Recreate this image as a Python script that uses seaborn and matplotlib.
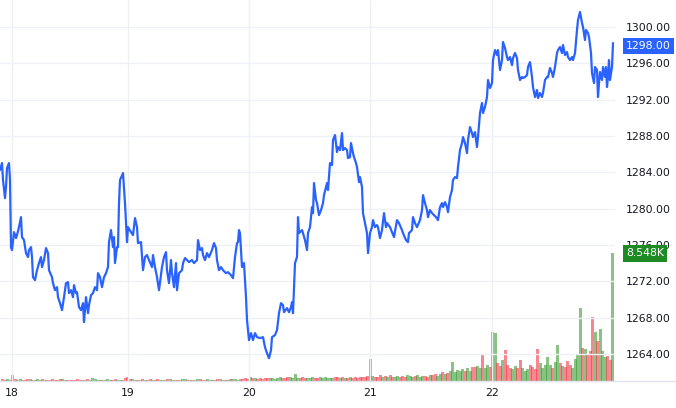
import numpy as np
import pandas as pd
import seaborn as sns
import matplotlib
matplotlib.use("Agg")
import matplotlib.pyplot as plt
from matplotlib.lines import Line2D

# ---------------- data (hours from day 18 00:00, price) ----------------
h_17 = [-2.2, -1.8, -1.6, -1.2, -1.0, -0.8, -0.4, -0.2]
p_17 = [1284.25, 1285.02, 1283.15, 1281.16, 1282.38, 1284.47, 1285.02, 1283.15]

h_18 = [0.0, 0.2, 0.6, 1.0, 1.2, 1.6, 2.0, 2.2, 2.6, 3.0,
        3.4, 3.6, 4.0, 4.2, 4.4, 4.8, 5.2, 5.6, 6.0, 6.2,
        6.6, 7.0, 7.4, 7.6, 8.2, 8.4, 8.8, 9.2, 9.4, 9.8,
        10.2, 10.6, 11.0, 11.4, 11.6, 12.0, 12.4, 12.6, 13.0, 13.2,
        13.6, 14.0, 14.4, 14.6, 15.0, 15.4, 15.6, 16.0, 16.4, 16.8,
        17.2, 17.4, 17.8, 18.2, 18.6, 19.0, 19.4, 19.6, 20.0, 20.4,
        20.6, 20.8, 21.2, 21.4, 21.6, 21.8, 22.4, 22.8, 23.2, 23.4]
p_18 = [1275.77, 1275.44, 1277.42, 1276.76, 1277.09, 1277.97, 1279.07, 1276.87, 1276.54, 1275.11,
        1274.67, 1275.44, 1275.77, 1274.67, 1272.46, 1272.13, 1273.23, 1274.01, 1274.67, 1273.57,
        1274.34, 1275.66, 1275.11, 1273.23, 1272.46, 1271.80, 1271.03, 1271.36, 1270.26, 1269.60,
        1268.83, 1270.26, 1271.80, 1271.91, 1270.70, 1271.03, 1270.26, 1271.58, 1270.70, 1270.81,
        1269.16, 1268.83, 1269.60, 1267.51, 1270.26, 1268.50, 1269.38, 1270.48, 1270.70, 1271.36,
        1271.03, 1272.90, 1272.46, 1271.36, 1272.46, 1272.90, 1273.57, 1276.32, 1277.64, 1275.77,
        1276.87, 1274.01, 1275.77, 1275.77, 1280.61, 1283.15, 1283.92, 1280.61, 1276.32, 1277.97]

h_19 = [24.0, 24.4, 24.8, 25.2, 25.4, 26.0, 26.4, 26.8, 27.2, 27.6,
        28.2, 28.4, 28.8, 29.2, 29.6, 30.2, 30.6, 31.0, 31.2, 31.6,
        32.0, 32.2, 32.6, 33.0, 33.2, 33.6, 34.2, 34.4, 34.8, 35.2,
        35.6, 36.2, 36.6, 37.2, 37.4, 37.8, 38.2, 38.4, 38.8, 39.2,
        39.6, 40.2, 40.6, 41.0, 41.2, 41.6, 42.0, 42.4, 43.0, 43.4,
        44.0, 44.4, 44.8, 45.2, 45.4, 45.6, 45.8, 46.2, 46.6, 47.0,
        47.2, 47.6]
p_19 = [1277.42, 1277.09, 1278.96, 1277.97, 1276.21, 1276.32, 1273.23, 1274.67, 1274.89, 1274.34,
        1273.57, 1274.89, 1273.57, 1272.46, 1271.03, 1273.57, 1274.67, 1275.22, 1273.23, 1271.80,
        1274.34, 1272.90, 1271.36, 1274.01, 1271.03, 1272.90, 1273.23, 1274.01, 1274.56, 1274.34,
        1274.12, 1274.34, 1274.01, 1274.34, 1276.54, 1275.44, 1275.66, 1274.89, 1274.34, 1275.11,
        1274.67, 1275.44, 1276.21, 1275.66, 1274.34, 1273.23, 1273.57, 1273.23, 1272.90, 1273.01,
        1272.68, 1272.35, 1274.67, 1276.21, 1276.32, 1277.64, 1277.31, 1273.57, 1274.01, 1270.26,
        1267.73, 1265.53]

h_20 = [48.0, 48.4, 48.8, 49.2, 49.8, 50.4, 50.8, 51.2, 51.6, 52.0,
        52.2, 52.8, 53.2, 53.6, 54.0, 54.4, 54.6, 55.2, 55.6, 56.0,
        56.2, 56.4, 56.8, 57.2, 57.4, 57.6, 58.2, 58.4, 58.8, 59.2,
        59.4, 59.8, 60.2, 60.4, 60.6, 61.0, 61.2, 61.6, 62.0, 62.4,
        62.6, 63.0, 63.2, 63.4, 63.8, 64.2, 64.4, 64.8, 65.2, 65.4,
        65.8, 66.2, 66.4, 66.8, 67.2, 67.4, 67.8, 68.0, 68.4, 68.6,
        69.0, 69.2, 69.6, 69.8, 70.2, 70.4, 70.8, 71.2, 71.4, 71.8]
p_20 = [1266.30, 1265.53, 1266.30, 1265.86, 1265.75, 1265.86, 1264.75, 1264.09, 1263.54, 1264.42,
        1265.86, 1266.08, 1266.63, 1268.50, 1269.60, 1269.38, 1268.61, 1269.05, 1268.61, 1269.16,
        1269.71, 1268.50, 1274.01, 1274.67, 1279.07, 1277.31, 1277.64, 1277.31, 1276.54, 1275.44,
        1277.31, 1277.97, 1280.17, 1279.51, 1282.82, 1280.94, 1280.61, 1279.29, 1279.84, 1280.61,
        1281.49, 1282.38, 1282.82, 1282.05, 1285.02, 1284.80, 1287.55, 1288.10, 1286.23, 1286.78,
        1286.45, 1288.32, 1286.45, 1286.67, 1286.45, 1285.57, 1285.68, 1287.22, 1286.12, 1285.68,
        1285.02, 1284.58, 1282.93, 1283.48, 1282.38, 1279.51, 1278.41, 1277.31, 1275.11, 1277.31]

h_21 = [72.2, 72.4, 72.8, 73.2, 73.4, 73.8, 74.2, 74.6, 75.0, 75.2,
        75.8, 76.2, 76.6, 77.2, 77.6, 78.2, 78.4, 79.0, 79.4, 79.6,
        80.2, 80.4, 80.8, 81.2, 81.8, 82.2, 82.4, 82.8, 83.2, 83.4,
        83.8, 84.2, 84.6, 85.0, 85.4, 85.8, 86.2, 86.4, 86.8, 87.2,
        87.4, 87.8, 88.2, 88.4, 88.8, 89.2, 89.4, 89.8, 90.2, 90.4,
        90.8, 91.2, 91.4, 91.8, 92.2, 92.4, 92.8, 93.2, 93.4, 93.8,
        94.2, 94.4, 94.8, 95.2, 95.4, 95.8]
p_21 = [1277.97, 1278.74, 1277.97, 1278.19, 1277.97, 1276.76, 1277.64, 1279.51, 1277.97, 1278.41,
        1277.97, 1277.42, 1276.87, 1278.74, 1278.41, 1277.64, 1277.31, 1276.54, 1276.32, 1277.31,
        1277.64, 1279.07, 1278.41, 1277.97, 1278.74, 1279.84, 1281.49, 1280.61, 1279.84, 1279.07,
        1279.84, 1279.51, 1279.29, 1279.07, 1278.74, 1280.17, 1280.61, 1280.17, 1280.72, 1280.17,
        1279.62, 1281.27, 1282.05, 1283.15, 1283.48, 1283.37, 1284.58, 1286.45, 1287.22, 1287.88,
        1287.22, 1286.12, 1287.55, 1288.98, 1288.32, 1287.88, 1288.43, 1286.78, 1287.88, 1290.53,
        1291.63, 1290.53, 1291.19, 1292.29, 1294.16, 1293.28]

h_22 = [96.2, 96.4, 96.8, 97.2, 97.4, 97.8, 98.2, 98.4, 98.8, 99.2,
        99.4, 99.8, 100.2, 100.4, 100.8, 101.2, 101.4, 101.8, 102.2, 102.4,
        102.8, 103.2, 103.4, 103.8, 104.2, 104.4, 104.8, 105.2, 105.4, 105.8,
        106.2, 106.4, 106.8, 107.2, 107.4, 107.8, 108.2, 108.4, 108.8, 109.2,
        109.4, 109.8, 110.2, 110.4, 110.8, 111.2, 111.4, 111.8, 112.2, 112.4,
        112.8, 113.2, 113.4, 113.8, 114.2, 114.4, 114.8, 115.0, 115.4, 115.6,
        116.0, 116.2, 116.6, 116.8, 117.2, 117.4, 117.6, 117.8, 118.2, 118.4,
        118.8, 119.0, 119.2, 119.4, 119.6, 119.8, 120.2, 120.4]
p_22 = [1293.83, 1296.36, 1297.46, 1296.91, 1297.46, 1295.26, 1296.36, 1298.34, 1297.68, 1296.69,
        1296.36, 1296.69, 1295.81, 1296.58, 1297.13, 1296.58, 1295.26, 1294.16, 1294.49, 1294.38,
        1294.49, 1294.71, 1295.59, 1296.14, 1294.49, 1293.39, 1292.29, 1293.06, 1292.18, 1292.73,
        1292.29, 1292.73, 1294.16, 1294.49, 1294.49, 1295.48, 1294.93, 1294.49, 1295.59, 1297.13,
        1297.46, 1297.79, 1297.13, 1298.01, 1296.91, 1297.24, 1296.69, 1296.36, 1296.69, 1296.36,
        1297.13, 1299.67, 1300.77, 1301.65, 1300.44, 1300.00, 1298.56, 1299.67, 1299.34, 1298.90,
        1297.13, 1294.93, 1293.83, 1295.59, 1295.26, 1292.29, 1293.83, 1295.04, 1294.16, 1295.59,
        1294.49, 1295.59, 1293.39, 1294.49, 1296.36, 1294.16, 1295.59, 1298.23]

# volume per 30-minute bar (bars start at hour -2.0)
vol_17 = [120, 90, 150, 80]
vol_18 = [400, 150, 100, 130, 90, 70, 110, 160, 80, 60, 120, 90,
          140, 100, 70, 80, 110, 60, 90, 130, 150, 100, 80, 70,
          60, 90, 110, 80, 70, 100, 120, 90, 200, 140, 90, 70,
          100, 80, 120, 60, 90, 110, 70, 80, 100, 180, 260, 150]
vol_19 = [120, 90, 100, 80, 130, 70, 90, 110, 60, 80, 140, 100,
          90, 70, 120, 160, 80, 100, 70, 90, 130, 110, 80, 60,
          100, 90, 150, 120, 80, 70, 110, 90, 60, 100, 140, 120,
          80, 90, 70, 110, 130, 160, 100, 150, 120, 180, 140, 250]
vol_20 = [180, 220, 160, 200, 150, 190, 230, 170, 210, 160, 200, 240,
          180, 220, 300, 260, 200, 470, 230, 180, 250, 210, 190, 230,
          280, 200, 170, 240, 220, 260, 190, 210, 180, 300, 240, 200,
          270, 220, 190, 250, 230, 280, 210, 260, 240, 300, 350, 1470]
vol_21 = [350, 250, 300, 420, 280, 330, 260, 380, 300, 240, 350, 290,
          320, 270, 380, 310, 260, 340, 400, 290, 330, 360, 300, 420,
          380, 450, 350, 500, 620, 480, 560, 700, 1270, 600, 750, 680,
          820, 640, 900, 700, 940, 950, 1000, 850, 1740, 900, 1100, 950]
vol_22 = [3270, 3200, 1200, 1000, 1400, 2070, 1100, 900, 800, 1000, 850, 1400,
          900, 700, 800, 1100, 950, 800, 2140, 1200, 900, 1050, 1600, 1100,
          900, 1300, 2400, 1200, 1000, 950, 1350, 1100, 900, 1500, 1800, 4870,
          2200, 2140, 1800, 2000, 4270, 3270, 2700, 3470, 2000, 1600, 1700, 1400,
          8548]

price_ticks = [1264, 1268, 1272, 1276, 1280, 1284, 1288, 1292, 1296, 1300]
day_tick_hours = [0.2, 23.4, 47.6, 71.8, 96.2]
day_tick_labels = ["18", "19", "20", "21", "22"]
last_price_label = "1298.00"
last_volume_label = "8.548K"

# ---------------- build frames ----------------
hours = np.array(h_17 + h_18 + h_19 + h_20 + h_21 + h_22)
prices = np.array(p_17 + p_18 + p_19 + p_20 + p_21 + p_22)
df = pd.DataFrame({"hour": hours, "price": prices})

vols = np.array(vol_17 + vol_18 + vol_19 + vol_20 + vol_21 + vol_22, dtype=float)
bar_start = -2.0 + 0.5 * np.arange(len(vols))
up = np.interp(bar_start + 0.5, hours, prices) >= np.interp(bar_start, hours, prices)
green, red = "#3a9a30", "#f23645"
bar_colors = [green if u else red for u in up]

# ---------------- plot ----------------
sns.set_theme(style="white")
plt.rcParams["font.family"] = ["DejaVu Sans"]

W, H = 676, 408
fig = plt.figure(figsize=(W / 100, H / 100), dpi=100)
fig.patch.set_facecolor("white")
rect = [0, 27 / H, 615 / W, 381 / H]
ax = fig.add_axes(rect)
axv = ax.twinx()
axv.set_zorder(ax.get_zorder() - 1)
ax.patch.set_visible(False)
axv.patch.set_visible(True)
axv.patch.set_facecolor("white")

axv.bar(bar_start, vols, width=0.6, align="edge", color=bar_colors,
        alpha=0.6, linewidth=0)
axv.set_ylim(0, 25443)
axv.set_yticks([])

sns.lineplot(data=df, x="hour", y="price", ax=ax, color="#2962ff",
             linewidth=1.6, estimator=None, sort=False)

ax.set_xlim(-2.2, 120.8)
ax.set_ylim(1261.03, 1302.97)
ax.set_xlabel("")
ax.set_ylabel("")
ax.yaxis.tick_right()
ax.set_yticks(price_ticks)
ax.set_yticklabels([f"{v:.2f}" for v in price_ticks])
ax.set_xticks(day_tick_hours)
ax.set_xticklabels(day_tick_labels)
ax.tick_params(axis="y", length=0, pad=8, labelsize=7.8, colors="#131722")
ax.tick_params(axis="x", length=0, pad=5, labelsize=7.8, colors="#131722")
ax.grid(True, color="#eef0f5", linewidth=1)
for a in (ax, axv):
    for s in a.spines.values():
        s.set_visible(False)

fig.add_artist(Line2D([0, 1], [27 / H, 27 / H], color="#e0e3eb", lw=1))

fig.text(626 / W, 1 - 46 / H, last_price_label, color="white", fontsize=7.8,
         ha="left", va="center",
         bbox=dict(boxstyle="square,pad=0.28", fc="#2962ff", ec="none"))
fig.text(626 / W, 1 - 253.5 / H, last_volume_label, color="white", fontsize=7.8,
         ha="left", va="center",
         bbox=dict(boxstyle="square,pad=0.28", fc="#1e8a23", ec="none"))

fig.savefig("out.png", dpi=100, facecolor="white")
